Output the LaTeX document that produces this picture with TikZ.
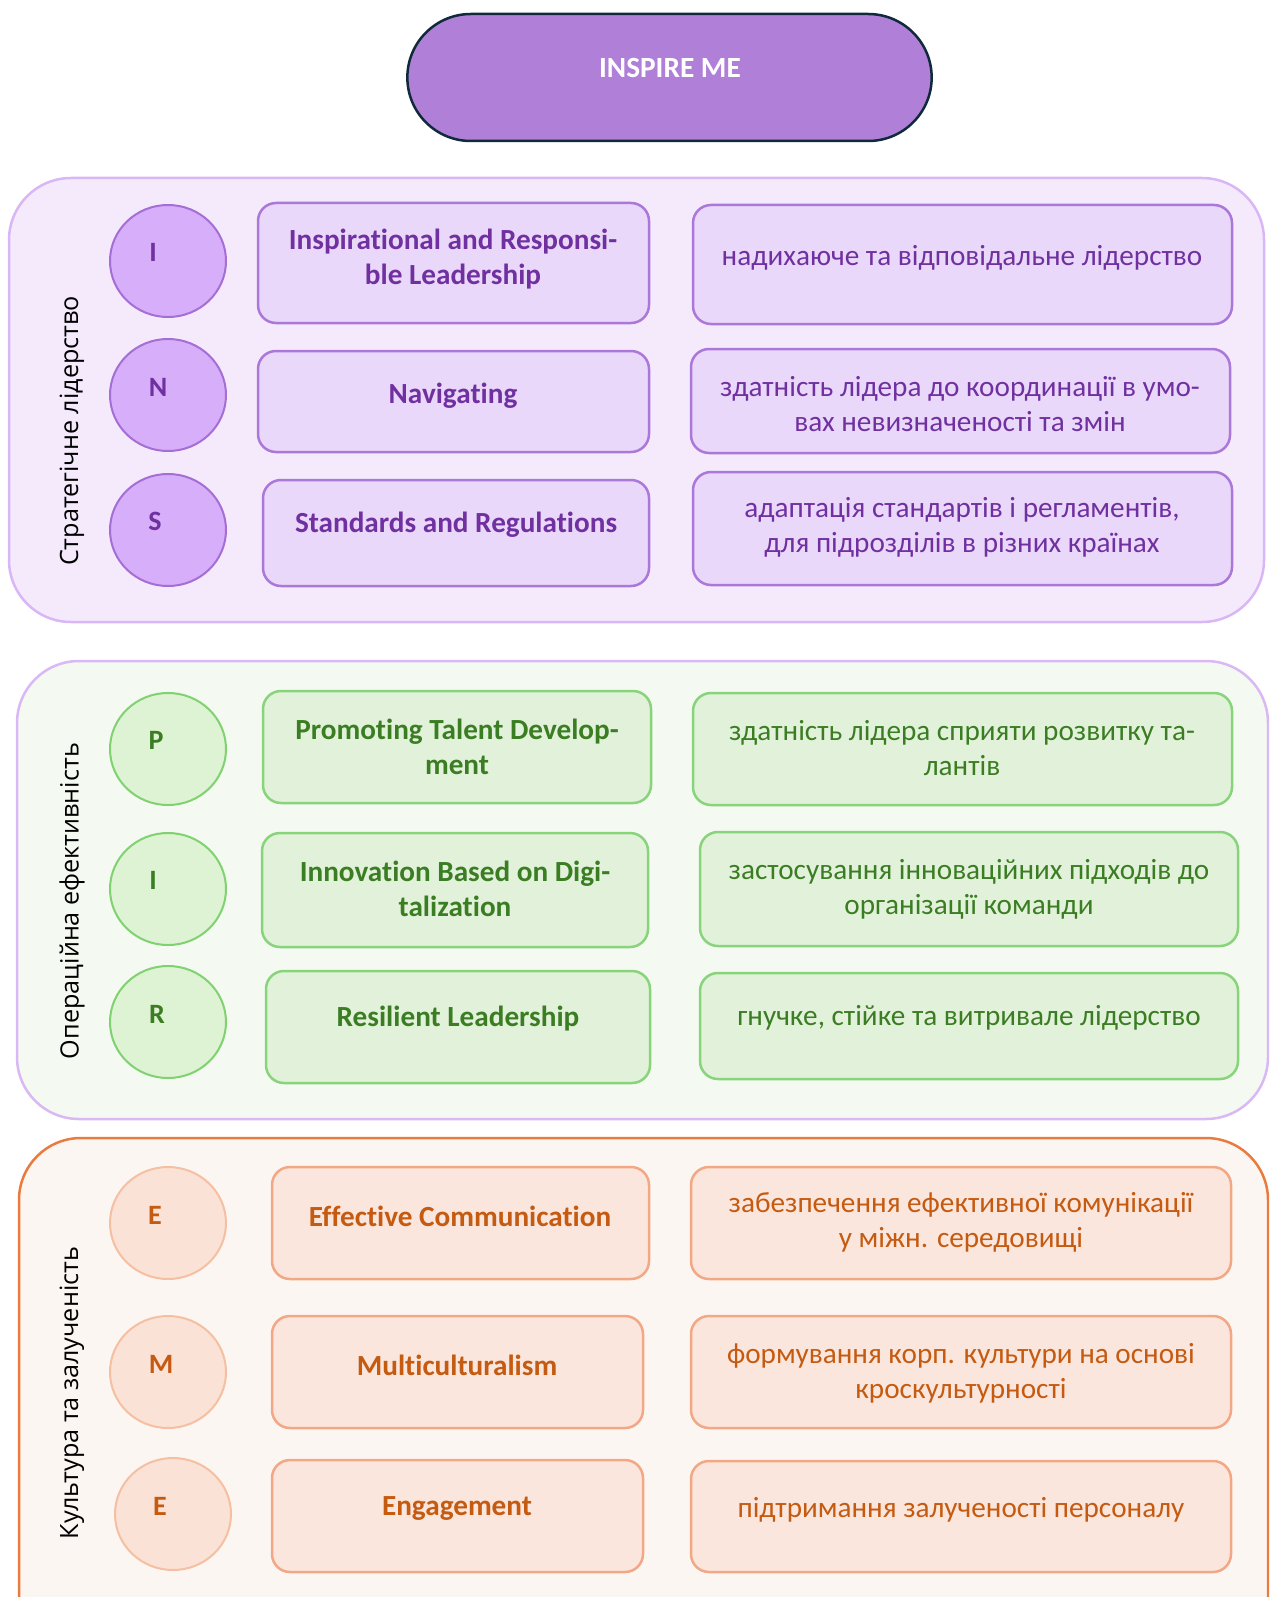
\documentclass[tikz,border=0pt]{standalone}
\usepackage{fontspec}
\setmainfont[RawFeature={-liga}]{Carlito}
\newfontfamily\sidefont{Open Sans}
\usetikzlibrary{shapes.geometric,shapes.misc}

% palette
\definecolor{pillFill}{HTML}{B07FD8}
\definecolor{pillLine}{HTML}{0F2A3A}
\definecolor{pGrpFill}{HTML}{F4EAFC}
\definecolor{pGrpLine}{HTML}{D9B6F6}
\definecolor{pBoxFill}{HTML}{E9D8FA}
\definecolor{pBoxLine}{HTML}{AB78DA}
\definecolor{pDiscFill}{HTML}{D7AEF9}
\definecolor{pDiscLine}{HTML}{A56ED6}
\definecolor{pText}{HTML}{7030A0}
\definecolor{gGrpFill}{HTML}{F4F9F1}
\definecolor{gGrpLine}{HTML}{D9B8F5}
\definecolor{gBoxFill}{HTML}{E2F2DA}
\definecolor{gBoxLine}{HTML}{88D47B}
\definecolor{gDiscFill}{HTML}{DDF3D4}
\definecolor{gDiscLine}{HTML}{80D271}
\definecolor{gText}{HTML}{3B7D23}
\definecolor{oGrpFill}{HTML}{FCF6F3}
\definecolor{oGrpLine}{HTML}{E97B3E}
\definecolor{oBoxFill}{HTML}{FBE6DD}
\definecolor{oBoxLine}{HTML}{F2A884}
\definecolor{oDiscFill}{HTML}{FBE2D6}
\definecolor{oDiscLine}{HTML}{F5BFA2}
\definecolor{oText}{HTML}{C55A11}

\tikzset{
  grp/.style={line width=2.5pt, rounded corners=62pt},
  cellbox/.style={line width=2.5pt, rounded corners=18pt},
  disc/.style={ellipse, minimum width=116pt, minimum height=112pt,
    line width=2pt, inner sep=0pt},
  letter/.style={font=\bfseries\fontsize{28}{32}\selectfont, inner sep=0pt},
  head/.style={font=\bfseries\fontsize{29.2}{35}\selectfont, align=center, inner sep=0pt},
  body/.style={font=\fontsize{29.2}{35}\selectfont, align=center, inner sep=0pt},
  side/.style={font=\sidefont\fontsize{25.2}{30}\selectfont, rotate=90, inner sep=0pt},
  % colour sets per group
  pg/.style={grp, fill=pGrpFill, draw=pGrpLine},
  pb/.style={cellbox, fill=pBoxFill, draw=pBoxLine},
  pd/.style={disc, fill=pDiscFill, draw=pDiscLine},
  gg/.style={grp, fill=gGrpFill, draw=gGrpLine},
  gb/.style={cellbox, fill=gBoxFill, draw=gBoxLine},
  gd/.style={disc, fill=gDiscFill, draw=gDiscLine},
  og/.style={grp, fill=oGrpFill, draw=oGrpLine},
  ob/.style={cellbox, fill=oBoxFill, draw=oBoxLine},
  od/.style={disc, fill=oDiscFill, draw=oDiscLine},
}

\begin{document}
\begin{tikzpicture}[x=1pt, y=-1pt]
\useasboundingbox (0,0) rectangle (1269,1597);
\clip (0,0) rectangle (1269,1597);

% title pill
\node[draw=pillLine, fill=pillFill, line width=2.5pt, rounded rectangle,
      minimum width=531pt, minimum height=127pt] (pill) at (669.5,77.5) {};
\node[font=\bfseries\fontsize{29.3}{34}\selectfont, text=white] (title) at (670,68) {INSPIRE ME};

% ---------- strategic leadership ----------
\path[pg] (9,178) rectangle (1264,622);
\node[side] (s1) at (72,431) {Стратегічне лідерство};

\node[pd] (d1) at (168,261) {};
\node[pd] (d2) at (168,395) {};
\node[pd] (d3) at (168,530) {};
\node[letter, text=pText] (l1) at (153,252) {I};
\node[letter, text=pText] (l2) at (158,387) {N};
\node[letter, text=pText] (l3) at (155,521) {S};

\path[pb] (258,203) rectangle (649,323);
\path[pb] (258,351) rectangle (649,452);
\path[pb] (263,480) rectangle (649,586);
\node[head, text=pText] (h1) at (453,259) {Inspirational and Responsi-\\ble Leadership};
\node[head, text=pText] (h2) at (453,395.5) {Navigating};
\node[head, text=pText] (h3) at (456,524.5) {Standards and Regulations};

\path[pb] (693,205) rectangle (1232,324);
\path[pb] (691,349) rectangle (1230,453);
\path[pb] (693,472) rectangle (1232,585);
\node[body, text=pText] (b1) at (962,257.5) {надихаюче та відповідальне лідерство};
\node[body, text=pText] (b2) at (960,404.5) {здатність лідера до координації в умо-\\вах невизначеності та змін};
\node[body, text=pText] (b3) at (962,527.5) {адаптація стандартів і регламентів,\\для підрозділів в різних країнах};

% ---------- operational efficiency ----------
\path[gg] (17,661) rectangle (1268,1119);
\node[side] (s2) at (72,901) {Операційна ефективність};

\node[gd] (d4) at (168,749) {};
\node[gd] (d5) at (168,889) {};
\node[gd] (d6) at (168,1022) {};
\node[letter, text=gText] (l4) at (156,740) {P};
\node[letter, text=gText] (l5) at (153,880) {I};
\node[letter, text=gText] (l6) at (157,1014) {R};

\path[gb] (263,691) rectangle (651,803);
\path[gb] (262,833) rectangle (648,947);
\path[gb] (266,971) rectangle (650,1083);
\node[head, text=gText] (h4) at (457,746.5) {Promoting Talent Develop-\\ment};
\node[head, text=gText] (h5) at (455,889) {Innovation Based on Digi-\\talization};
\node[head, text=gText] (h6) at (458,1018.5) {Resilient Leadership};

\path[gb] (693,693) rectangle (1232,805);
\path[gb] (700,832) rectangle (1238,946);
\path[gb] (700,973) rectangle (1238,1079);
\node[body, text=gText] (b4) at (962,748.5) {здатність лідера сприяти розвитку та-\\лантів};
\node[body, text=gText] (b5) at (969,889) {застосування інноваційних підходів до\\організації команди};
\node[body, text=gText] (b6) at (969,1017.5) {гнучке, стійке та витривале лідерство};

% ---------- culture and engagement ----------
\path[og] (19,1138) rectangle (1268,1660);
\node[side] (s3) at (72,1393) {Культура та залученість};

\node[od] (d7) at (168,1223) {};
\node[od] (d8) at (168,1372) {};
\node[od] (d9) at (173,1514) {};
\node[letter, text=oText] (l7) at (155,1215) {E};
\node[letter, text=oText] (l8) at (161,1364) {M};
\node[letter, text=oText] (l9) at (160,1506) {E};

\path[ob] (272,1167) rectangle (649,1279);
\path[ob] (272,1316) rectangle (643,1428);
\path[ob] (272,1460) rectangle (643,1572);
\node[head, text=oText] (h7) at (460,1216.5) {Effective Communication};
\node[head, text=oText] (h8) at (457,1365.5) {Multiculturalism};
\node[head, text=oText] (h9) at (457,1508.5) {Engagement};

\path[ob] (691,1167) rectangle (1231,1279);
\path[ob] (691,1316) rectangle (1231,1428);
\path[ob] (691,1461) rectangle (1231,1572);
\node[body, text=oText] (b7) at (961,1222.5) {забезпечення ефективної комунікації\\у міжн. середовищі};
\node[body, text=oText] (b8) at (961,1373) {формування корп. культури на основі\\кроскультурності};
\node[body, text=oText] (b9) at (961,1509.5) {підтримання залученості персоналу};
\end{tikzpicture}
\end{document}
